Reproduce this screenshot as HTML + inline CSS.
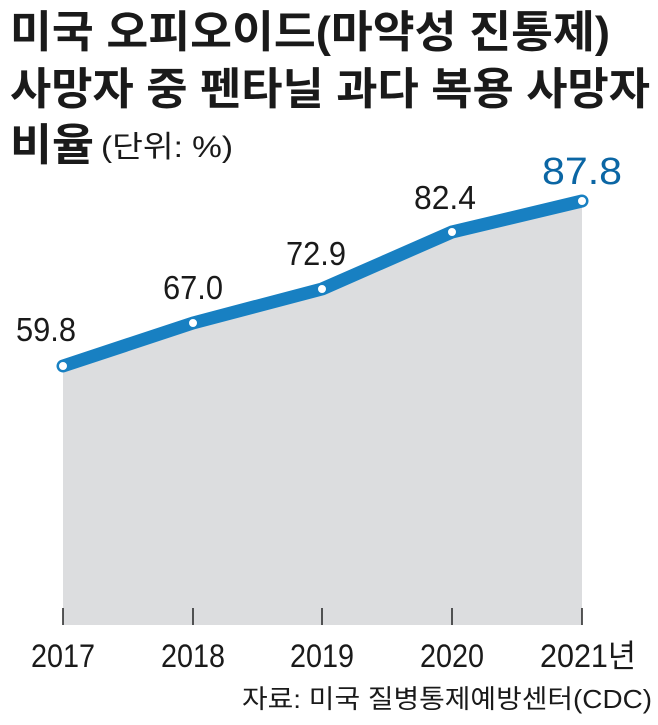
<!DOCTYPE html>
<html><head><meta charset="utf-8"><style>
body{margin:0;background:#fff;width:658px;height:720px;overflow:hidden;font-family:"Liberation Sans","Noto Sans CJK KR",sans-serif;}
</style></head><body>
<svg width="658" height="720" viewBox="0 0 658 720" xmlns="http://www.w3.org/2000/svg" style="font-family:'Liberation Sans','Noto Sans CJK KR',sans-serif">
<g font-weight="bold" font-size="44" fill="#1a1a1a">
<text x="10" y="47" textLength="600" lengthAdjust="spacingAndGlyphs">미국 오피오이드(마약성 진통제)</text>
<text x="10" y="104" textLength="640" lengthAdjust="spacingAndGlyphs">사망자 중 펜타닐 과다 복용 사망자</text>
<text x="10" y="160" textLength="84" lengthAdjust="spacingAndGlyphs">비율</text>
</g>
<text x="101" y="157" font-size="30" fill="#1a1a1a" textLength="132" lengthAdjust="spacingAndGlyphs">(단위: %)</text>
<polygon points="63,366 193,323 322,289 452,232 582,201 582,625 63,625" fill="#dcdddf"/>
<g stroke="#222" stroke-width="1.5">
<line x1="63" y1="608" x2="63" y2="625"/><line x1="193" y1="608" x2="193" y2="625"/><line x1="322" y1="608" x2="322" y2="625"/><line x1="452" y1="608" x2="452" y2="625"/><line x1="582" y1="608" x2="582" y2="625"/>
</g>
<polyline points="63,366 193,323 322,289 452,232 582,201" fill="none" stroke="#1880c2" stroke-width="13" stroke-linejoin="round" stroke-linecap="round"/>
<g fill="#fff" stroke="#1880c2" stroke-width="2">
<circle cx="63" cy="366" r="5"/><circle cx="193" cy="323" r="5"/><circle cx="322" cy="289" r="5"/><circle cx="452" cy="232" r="5"/><circle cx="582" cy="201" r="5"/>
</g>
<g font-size="33" fill="#1a1a1a" text-anchor="middle">
<text x="46" y="341" textLength="60" lengthAdjust="spacingAndGlyphs">59.8</text>
<text x="193" y="299" textLength="60" lengthAdjust="spacingAndGlyphs">67.0</text>
<text x="316" y="265" textLength="60" lengthAdjust="spacingAndGlyphs">72.9</text>
<text x="445" y="209" textLength="62" lengthAdjust="spacingAndGlyphs">82.4</text>
<text x="582" y="184" fill="#0b66a4" font-size="38" textLength="80" lengthAdjust="spacingAndGlyphs">87.8</text>
</g>
<g font-size="32" fill="#1a1a1a" text-anchor="middle">
<text x="63" y="667" textLength="64" lengthAdjust="spacingAndGlyphs">2017</text><text x="193" y="667" textLength="64" lengthAdjust="spacingAndGlyphs">2018</text><text x="322" y="667" textLength="64" lengthAdjust="spacingAndGlyphs">2019</text><text x="452" y="667" textLength="64" lengthAdjust="spacingAndGlyphs">2020</text><text x="588" y="667" textLength="96" lengthAdjust="spacingAndGlyphs">2021년</text>
</g>
<text x="652" y="708" font-size="26" fill="#1a1a1a" text-anchor="end" textLength="410" lengthAdjust="spacingAndGlyphs">자료: 미국 질병통제예방센터(CDC)</text>
</svg>
</body></html>
